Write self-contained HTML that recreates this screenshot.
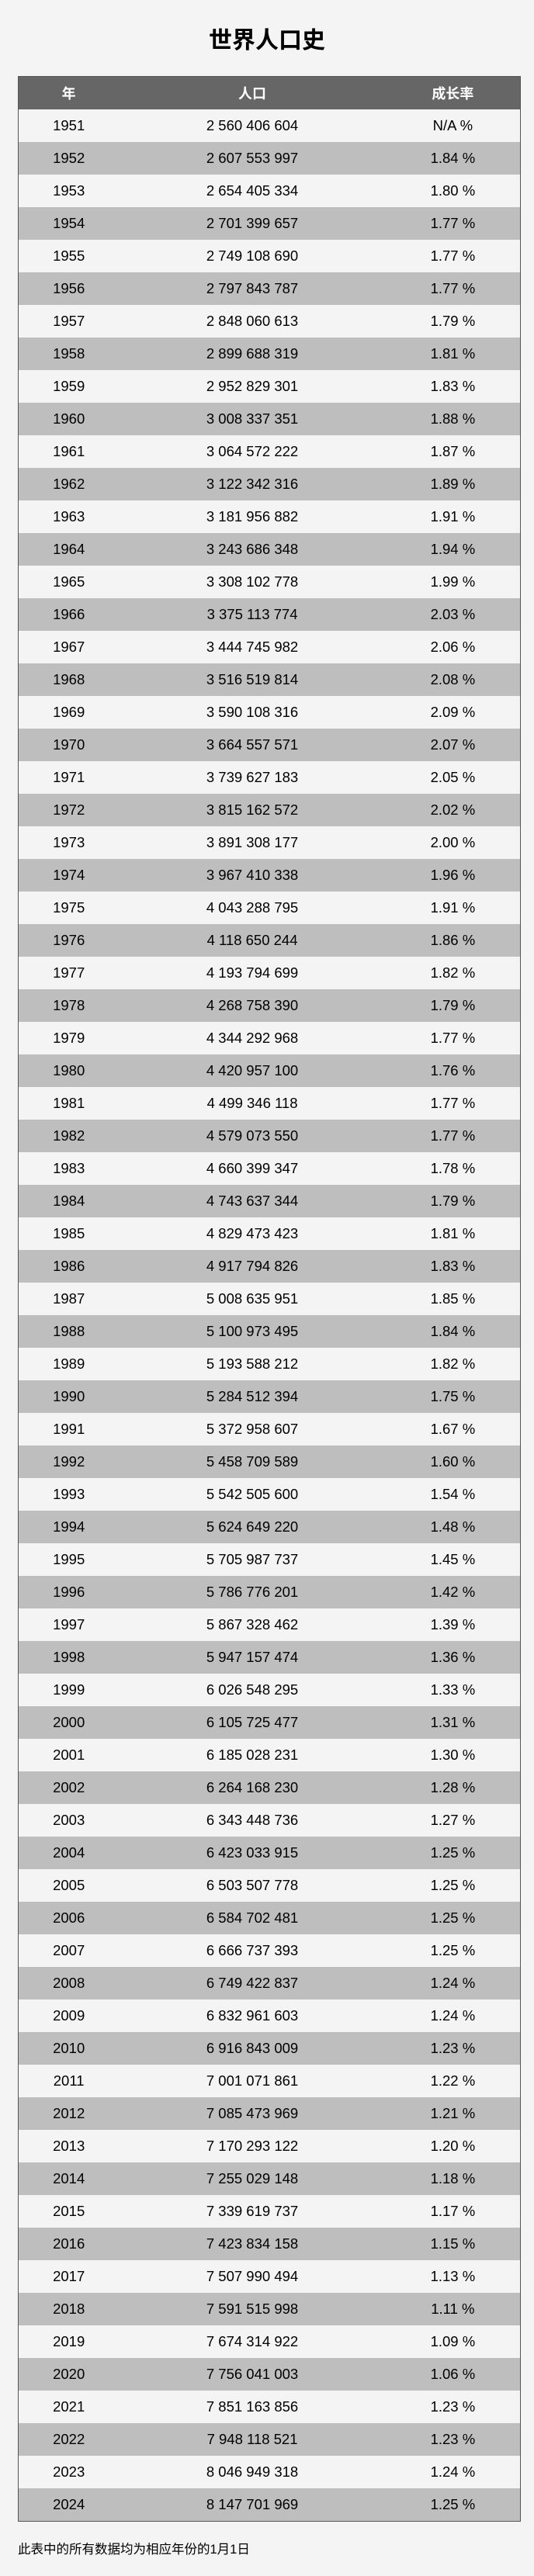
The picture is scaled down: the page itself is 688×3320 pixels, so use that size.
<!DOCTYPE html>
<html><head><meta charset="utf-8"><style>
html,body{margin:0;padding:0;background:#f4f4f4;width:688px;height:3320px;overflow:hidden}
body{font-family:"Liberation Sans","Noto Sans CJK SC",sans-serif;color:#000}
h1{margin:0;position:absolute;top:34px;left:0;width:688px;text-align:center;font-size:30px;font-weight:bold;line-height:38px}
table{position:absolute;top:98px;left:23px;width:648px;border-collapse:collapse;border:1px solid #555;font-size:18.5px}
th{background:#666;color:#fff;height:42px;font-weight:bold;font-size:18px;padding:0}
td{height:42px;padding:0;text-align:center}
tr:nth-child(even) td{background:#bebebe}
tr:nth-child(odd) td{background:#f4f4f4}
.f{position:absolute;top:3272px;left:23px;font-size:16.5px}
</style></head><body>
<h1>世界人口史</h1>
<table>
<colgroup><col style="width:130px"><col style="width:344px"><col style="width:174px"></colgroup>
<thead><tr><th>年</th><th>人口</th><th>成长率</th></tr></thead>
<tbody>
<tr><td>1951</td><td>2 560 406 604</td><td>N/A %</td></tr>
<tr><td>1952</td><td>2 607 553 997</td><td>1.84 %</td></tr>
<tr><td>1953</td><td>2 654 405 334</td><td>1.80 %</td></tr>
<tr><td>1954</td><td>2 701 399 657</td><td>1.77 %</td></tr>
<tr><td>1955</td><td>2 749 108 690</td><td>1.77 %</td></tr>
<tr><td>1956</td><td>2 797 843 787</td><td>1.77 %</td></tr>
<tr><td>1957</td><td>2 848 060 613</td><td>1.79 %</td></tr>
<tr><td>1958</td><td>2 899 688 319</td><td>1.81 %</td></tr>
<tr><td>1959</td><td>2 952 829 301</td><td>1.83 %</td></tr>
<tr><td>1960</td><td>3 008 337 351</td><td>1.88 %</td></tr>
<tr><td>1961</td><td>3 064 572 222</td><td>1.87 %</td></tr>
<tr><td>1962</td><td>3 122 342 316</td><td>1.89 %</td></tr>
<tr><td>1963</td><td>3 181 956 882</td><td>1.91 %</td></tr>
<tr><td>1964</td><td>3 243 686 348</td><td>1.94 %</td></tr>
<tr><td>1965</td><td>3 308 102 778</td><td>1.99 %</td></tr>
<tr><td>1966</td><td>3 375 113 774</td><td>2.03 %</td></tr>
<tr><td>1967</td><td>3 444 745 982</td><td>2.06 %</td></tr>
<tr><td>1968</td><td>3 516 519 814</td><td>2.08 %</td></tr>
<tr><td>1969</td><td>3 590 108 316</td><td>2.09 %</td></tr>
<tr><td>1970</td><td>3 664 557 571</td><td>2.07 %</td></tr>
<tr><td>1971</td><td>3 739 627 183</td><td>2.05 %</td></tr>
<tr><td>1972</td><td>3 815 162 572</td><td>2.02 %</td></tr>
<tr><td>1973</td><td>3 891 308 177</td><td>2.00 %</td></tr>
<tr><td>1974</td><td>3 967 410 338</td><td>1.96 %</td></tr>
<tr><td>1975</td><td>4 043 288 795</td><td>1.91 %</td></tr>
<tr><td>1976</td><td>4 118 650 244</td><td>1.86 %</td></tr>
<tr><td>1977</td><td>4 193 794 699</td><td>1.82 %</td></tr>
<tr><td>1978</td><td>4 268 758 390</td><td>1.79 %</td></tr>
<tr><td>1979</td><td>4 344 292 968</td><td>1.77 %</td></tr>
<tr><td>1980</td><td>4 420 957 100</td><td>1.76 %</td></tr>
<tr><td>1981</td><td>4 499 346 118</td><td>1.77 %</td></tr>
<tr><td>1982</td><td>4 579 073 550</td><td>1.77 %</td></tr>
<tr><td>1983</td><td>4 660 399 347</td><td>1.78 %</td></tr>
<tr><td>1984</td><td>4 743 637 344</td><td>1.79 %</td></tr>
<tr><td>1985</td><td>4 829 473 423</td><td>1.81 %</td></tr>
<tr><td>1986</td><td>4 917 794 826</td><td>1.83 %</td></tr>
<tr><td>1987</td><td>5 008 635 951</td><td>1.85 %</td></tr>
<tr><td>1988</td><td>5 100 973 495</td><td>1.84 %</td></tr>
<tr><td>1989</td><td>5 193 588 212</td><td>1.82 %</td></tr>
<tr><td>1990</td><td>5 284 512 394</td><td>1.75 %</td></tr>
<tr><td>1991</td><td>5 372 958 607</td><td>1.67 %</td></tr>
<tr><td>1992</td><td>5 458 709 589</td><td>1.60 %</td></tr>
<tr><td>1993</td><td>5 542 505 600</td><td>1.54 %</td></tr>
<tr><td>1994</td><td>5 624 649 220</td><td>1.48 %</td></tr>
<tr><td>1995</td><td>5 705 987 737</td><td>1.45 %</td></tr>
<tr><td>1996</td><td>5 786 776 201</td><td>1.42 %</td></tr>
<tr><td>1997</td><td>5 867 328 462</td><td>1.39 %</td></tr>
<tr><td>1998</td><td>5 947 157 474</td><td>1.36 %</td></tr>
<tr><td>1999</td><td>6 026 548 295</td><td>1.33 %</td></tr>
<tr><td>2000</td><td>6 105 725 477</td><td>1.31 %</td></tr>
<tr><td>2001</td><td>6 185 028 231</td><td>1.30 %</td></tr>
<tr><td>2002</td><td>6 264 168 230</td><td>1.28 %</td></tr>
<tr><td>2003</td><td>6 343 448 736</td><td>1.27 %</td></tr>
<tr><td>2004</td><td>6 423 033 915</td><td>1.25 %</td></tr>
<tr><td>2005</td><td>6 503 507 778</td><td>1.25 %</td></tr>
<tr><td>2006</td><td>6 584 702 481</td><td>1.25 %</td></tr>
<tr><td>2007</td><td>6 666 737 393</td><td>1.25 %</td></tr>
<tr><td>2008</td><td>6 749 422 837</td><td>1.24 %</td></tr>
<tr><td>2009</td><td>6 832 961 603</td><td>1.24 %</td></tr>
<tr><td>2010</td><td>6 916 843 009</td><td>1.23 %</td></tr>
<tr><td>2011</td><td>7 001 071 861</td><td>1.22 %</td></tr>
<tr><td>2012</td><td>7 085 473 969</td><td>1.21 %</td></tr>
<tr><td>2013</td><td>7 170 293 122</td><td>1.20 %</td></tr>
<tr><td>2014</td><td>7 255 029 148</td><td>1.18 %</td></tr>
<tr><td>2015</td><td>7 339 619 737</td><td>1.17 %</td></tr>
<tr><td>2016</td><td>7 423 834 158</td><td>1.15 %</td></tr>
<tr><td>2017</td><td>7 507 990 494</td><td>1.13 %</td></tr>
<tr><td>2018</td><td>7 591 515 998</td><td>1.11 %</td></tr>
<tr><td>2019</td><td>7 674 314 922</td><td>1.09 %</td></tr>
<tr><td>2020</td><td>7 756 041 003</td><td>1.06 %</td></tr>
<tr><td>2021</td><td>7 851 163 856</td><td>1.23 %</td></tr>
<tr><td>2022</td><td>7 948 118 521</td><td>1.23 %</td></tr>
<tr><td>2023</td><td>8 046 949 318</td><td>1.24 %</td></tr>
<tr><td>2024</td><td>8 147 701 969</td><td>1.25 %</td></tr>
</tbody></table>
<div class="f">此表中的所有数据均为相应年份的1月1日</div>
</body></html>
